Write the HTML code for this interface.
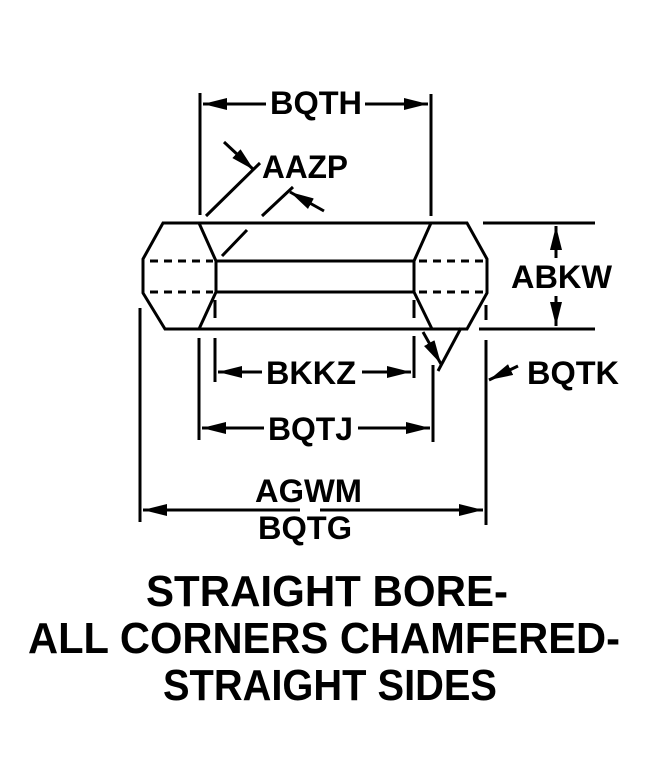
<!DOCTYPE html>
<html><head><style>html,body{margin:0;padding:0;background:#fff}svg{display:block}</style></head><body>
<svg width="654" height="768" viewBox="0 0 654 768" xmlns="http://www.w3.org/2000/svg">
<defs><marker id="a" viewBox="0 0 24 12" refX="24" refY="6" markerWidth="24" markerHeight="12" markerUnits="userSpaceOnUse" orient="auto"><path d="M0,0 L24,6 L0,12 z" fill="#000"/></marker></defs>
<g stroke="#000" stroke-width="3" fill="none">
<path d="M163,223 L467,223 L487,259 L487,293 L467,329 L165,329 L143,293 L143,259 Z"/>
<path d="M199,223 L216,261 L216,292 L199,329"/>
<path d="M431,223 L414,261 L414,292 L432,329"/>
<path d="M216,261 L414,261 M216,292 L414,292"/>
<path d="M150,261 L213,261 M150,292 L213,292 M419,261 L484,261 M419,292 L484,292" stroke-dasharray="8,6"/>
<path d="M200,93 L200,215 M431,94 L431,216"/>
<path d="M266,104 L203,104" marker-end="url(#a)"/><path d="M365,104 L428,104" marker-end="url(#a)"/>
<path d="M206,216 L260,163 M262,216 L293,187 M222,256 L247,230"/>
<path d="M224,142 L254,170" marker-end="url(#a)"/><path d="M324,211 L290,192" marker-end="url(#a)"/>
<path d="M483,223 L595,223 M479,329 L595,329"/>
<path d="M556,258 L556,226" marker-end="url(#a)"/><path d="M556,296 L556,326" marker-end="url(#a)"/>
<path d="M215,300 L215,318 M414,300 L414,318 M486,305 L486,320"/>
<path d="M215,338 L215,382 M414,336 L414,378"/>
<path d="M262,372 L218,372" marker-end="url(#a)"/><path d="M362,372 L411,372" marker-end="url(#a)"/>
<path d="M199,338 L199,440 M433,365 L433,442"/>
<path d="M264,428 L202,428" marker-end="url(#a)"/><path d="M358,428 L430,428" marker-end="url(#a)"/>
<path d="M423,332 L441,364" marker-end="url(#a)"/><path d="M461,328 L438,371"/>
<path d="M486,340 L486,525"/>
<path d="M518,366 L489,380" marker-end="url(#a)"/>
<path d="M140,308 L140,522"/>
<path d="M300,510 L143,510" marker-end="url(#a)"/><path d="M320,510 L483,510" marker-end="url(#a)"/>
</g>
<g font-family="Liberation Sans, sans-serif" font-weight="bold" font-size="32" fill="#000">
<text x="270" y="114" textLength="92" lengthAdjust="spacingAndGlyphs">BQTH</text>
<text x="262" y="178" textLength="86" lengthAdjust="spacingAndGlyphs">AAZP</text>
<text x="511" y="288" textLength="101" lengthAdjust="spacingAndGlyphs">ABKW</text>
<text x="266" y="384" textLength="90" lengthAdjust="spacingAndGlyphs">BKKZ</text>
<text x="268" y="440" textLength="85" lengthAdjust="spacingAndGlyphs">BQTJ</text>
<text x="527" y="384" textLength="92" lengthAdjust="spacingAndGlyphs">BQTK</text>
<text x="255" y="502" textLength="107" lengthAdjust="spacingAndGlyphs">AGWM</text>
<text x="258" y="539" textLength="94" lengthAdjust="spacingAndGlyphs">BQTG</text>
</g>
<g font-family="Liberation Sans, sans-serif" font-weight="bold" font-size="44" fill="#000">
<text x="146" y="606" textLength="362" lengthAdjust="spacingAndGlyphs">STRAIGHT BORE-</text>
<text x="28" y="653" textLength="592" lengthAdjust="spacingAndGlyphs">ALL CORNERS CHAMFERED-</text>
<text x="163" y="700" textLength="334" lengthAdjust="spacingAndGlyphs">STRAIGHT SIDES</text>
</g>
</svg>
</body></html>
